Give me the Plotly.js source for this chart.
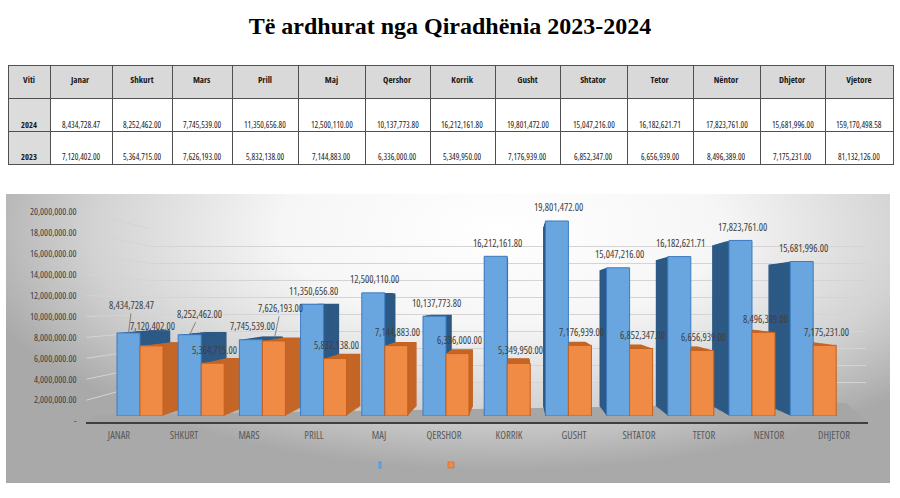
<!DOCTYPE html>
<html><head><meta charset="utf-8">
<script src="https://cdn.plot.ly/plotly-3.0.1.min.js"></script>
<style>html,body{margin:0;padding:0;background:#fff}#chart{width:900px;height:498px}</style>
</head><body><div id="chart"></div>
<script>
// ---------------- data ----------------
const months = ['JANAR','SHKURT','MARS','PRILL','MAJ','QERSHOR','KORRIK','GUSHT','SHTATOR','TETOR','NENTOR','DHJETOR'];
const tableHeaders = ['Viti','Janar','Shkurt','Mars','Prill','Maj','Qershor','Korrik','Gusht','Shtator','Tetor','Nëntor','Dhjetor','Vjetore'];
const years = ['2024','2023'];
const values2024 = [8434728.47, 8252462.00, 7745539.00, 11350656.80, 12500110.00, 10137773.80, 16212161.80, 19801472.00, 15047216.00, 16182621.71, 17823761.00, 15681996.00];
const values2023 = [7120402.00, 5364715.00, 7626193.00, 5832138.00, 7144883.00, 6336000.00, 5349950.00, 7176939.00, 6852347.00, 6656939.00, 8496389.00, 7175231.00];
const total2024 = 159170498.58;
const total2023 = 81132126.00;
const yTickVals = [0, 2000000, 4000000, 6000000, 8000000, 10000000, 12000000, 14000000, 16000000, 18000000, 20000000];
const yTickText = ['-', '2,000,000.00', '4,000,000.00', '6,000,000.00', '8,000,000.00', '10,000,000.00', '12,000,000.00', '14,000,000.00', '16,000,000.00', '18,000,000.00', '20,000,000.00'];

// ---------------- font detection (narrow look) ----------------
function textWidth(family, stretch) {
  const s = document.createElement('span');
  s.style.cssText = 'position:absolute;visibility:hidden;white-space:nowrap;font-size:40px;font-family:' + family + ';font-stretch:' + stretch;
  s.textContent = '0123456789,.ABCDEFGHIJ';
  document.body.appendChild(s);
  const w = s.getBoundingClientRect().width;
  s.remove();
  return w;
}
let FAM = '"Liberation Sans", Arial, sans-serif', STRETCH = null, NARROW = false;
if (Math.abs(textWidth('"Liberation Sans Narrow", monospace', '100%') - textWidth('monospace', '100%')) > 1) {
  FAM = '"Liberation Sans Narrow", sans-serif'; NARROW = true;
} else {
  for (const f of ['Open Sans', 'Roboto', 'Noto Sans', 'Inter']) {
    const w100 = textWidth('"' + f + '", monospace', '100%');
    const w75 = textWidth('"' + f + '", monospace', '75%');
    if (w75 < 0.9 * w100) { FAM = '"' + f + '", sans-serif'; STRETCH = '75%'; NARROW = true; break; }
  }
}
if (STRETCH) {
  const st = document.createElement('style');
  st.textContent = 'svg text { font-stretch: ' + STRETCH + '; }';
  document.head.appendChild(st);
}
const SZ = NARROW ? {lab: 10, ytk: 9.5, xtk: 10.5, tab: 8.5} : {lab: 8.5, ytk: 8.3, xtk: 8.8, tab: 8};

const fmt = v => v.toLocaleString('en-US', {minimumFractionDigits: 2, maximumFractionDigits: 2});
const W = 900, H = 498;
const px = x => x / W, py = y => 1 - y / H;

// ---------------- table ----------------
const cellCols = [years.map(y => '<b>' + y + '</b>')];
for (let i = 0; i < months.length; i++) cellCols.push([fmt(values2024[i]), fmt(values2023[i])]);
cellCols.push([fmt(total2024), fmt(total2023)]);
const cellFill = cellCols.map((c, i) => c.map(() => i === 0 ? '#dcdcdc' : '#ffffff'));

const TAB = {x0: 8, top: 65, rowH: 33, textY: [124, 157]};
const colW = [42, 62, 60, 60, 66, 67, 65, 65, 65, 67, 66, 67, 65, 68];
const table = {
  type: 'table',
  domain: {x: [px(TAB.x0), px(893)], y: [py(167), py(TAB.top)]},
  columnwidth: colW,
  header: {
    values: tableHeaders.map(h => '<b>' + h + '</b>'),
    height: TAB.rowH, align: 'center',
    fill: {color: '#d9d9d9'},
    line: {color: '#505050', width: 1},
    font: {family: FAM, size: SZ.tab + 0.5, color: '#1a1a1a'}
  },
  cells: {
    values: cellCols.map(c => c.map(() => '')), height: TAB.rowH, align: 'center',
    fill: {color: cellFill},
    line: {color: '#505050', width: 1},
    font: {family: FAM, size: SZ.tab, color: '#1a1a1a'}
  }
};
// cell texts, placed at the bottom part of each cell like the original
const tableAnnotations = [];
{
  let acc = TAB.x0;
  colW.forEach((w, ci) => {
    const cx = acc + w / 2; acc += w;
    cellCols[ci].forEach((t, ri) => tableAnnotations.push({
      xref: 'paper', yref: 'paper', x: px(cx), y: py(TAB.textY[ri]), text: t, showarrow: false,
      xanchor: 'center', yanchor: 'middle', font: {family: FAM, size: SZ.tab, color: '#1a1a1a'}
    }));
  });
}

// ---------------- pseudo-3D geometry (layout only) ----------------
const N = 10, SMIN = 0.92;           // depth layers, back-plane scale
const VX = 518, VY = 300;             // vanishing point (px)
const FX0 = 109.4, FX1 = 843.8;       // front plane x extent (px)
const FY0 = 416, FY1 = 219;           // front plane y of 0 and of 20M (px)
const WALL = {x0: 150, x1: 866, y0: 400, y1: 229};   // back wall (gridlines)
const LEFT = {x: 86.5, y0: 421, y1: 212};            // left wall front edge (value labels)
const YMAX = 20000000;
function planeDomains(s) {
  return {
    x: [px(VX + (FX0 - VX) * s), px(VX + (FX1 - VX) * s)],
    y: [py(VY + (FY0 - VY) * s), py(VY + (FY1 - VY) * s)]
  };
}

const traces = [table];
const layoutAxes = {};
const hidden = {visible: false, fixedrange: true};

// helper (invisible) trace so the back-wall grid subplot is drawn
traces.push({type: 'scatter', mode: 'none', x: months, y: values2024, xaxis: 'x', yaxis: 'y', showlegend: false, hoverinfo: 'skip'});

for (let j = 1; j <= N + 1; j++) {
  const id = j + 1;
  const front = (j === N + 1);
  const s = front ? 1 : SMIN + (1 - SMIN) * (j - 1) / N;
  const d = planeDomains(s);
  layoutAxes['xaxis' + id] = Object.assign({domain: d.x, type: 'category', range: [-0.5, months.length - 0.5], anchor: 'y' + id}, hidden);
  layoutAxes['yaxis' + id] = Object.assign({domain: d.y, range: [0, YMAX], anchor: 'x' + id}, hidden);
  traces.push({
    type: 'bar', x: months, y: values2024, xaxis: 'x' + id, yaxis: 'y' + id,
    name: ' ', showlegend: front, hoverinfo: front ? 'x+y' : 'skip',
    marker: front ? {color: '#69a6df', line: {color: '#3a7cc0', width: 1}} : {color: '#2d5985', line: {width: 0}}
  });
  traces.push({
    type: 'bar', x: months, y: values2023, xaxis: 'x' + id, yaxis: 'y' + id,
    name: ' ', showlegend: front, hoverinfo: front ? 'x+y' : 'skip',
    marker: front ? {color: '#f08b46', line: {color: '#c55f1a', width: 1}} : {color: '#c46627', line: {width: 0}}
  });
}
const FID = N + 2;       // front axes id
const LID = N + 3;       // label axes id

// helper (invisible) trace for the label axes
traces.push({type: 'scatter', mode: 'none', x: months, y: values2023, xaxis: 'x' + LID, yaxis: 'y' + LID, showlegend: false, hoverinfo: 'skip'});

layoutAxes['xaxis' + LID] = {
  domain: [px(86.5), px(866.5)], type: 'category', range: [-0.5, months.length - 0.5], anchor: 'y' + LID,
  showgrid: false, zeroline: false, showline: false, fixedrange: true,
  ticks: 'outside', ticklen: 4, tickcolor: 'rgba(0,0,0,0)',
  tickfont: {family: FAM, size: SZ.xtk, color: '#595959'}
};
layoutAxes['yaxis' + LID] = {
  domain: [py(LEFT.y0), py(LEFT.y1)], range: [0, YMAX], anchor: 'x' + LID,
  tickvals: yTickVals, ticktext: yTickText,
  showgrid: false, zeroline: false, showline: false, fixedrange: true,
  ticks: 'outside', ticklen: 7, tickcolor: 'rgba(0,0,0,0)',
  tickfont: {family: FAM, size: SZ.ytk, color: '#404040'}
};

// ---------------- data labels ----------------
const labelFont = {family: FAM, size: SZ.lab, color: '#404040'};
const leader2024 = {0: {ax: 3.5, ay: -28}, 1: {ax: 10, ay: -21}};
const leader2023 = {2: {ax: 7, ay: -33}};
const lift2023 = {0: 20};
const annotations = [];
function addLabels(vals, leaders, lifts, tipShift, textShift) {
  vals.forEach((v, i) => {
    const base = {x: months[i], y: v, xref: 'x' + FID, yref: 'y' + FID, text: fmt(v), font: labelFont};
    if (leaders[i]) {
      annotations.push(Object.assign(base, {
        xshift: tipShift, showarrow: true, arrowhead: 0, arrowwidth: 0.8, arrowcolor: '#6f6f6f',
        standoff: 0, ax: leaders[i].ax, ay: leaders[i].ay
      }));
    } else {
      annotations.push(Object.assign(base, {
        showarrow: false, xshift: textShift, yshift: lifts[i] || 13.5, yanchor: 'middle', xanchor: 'center'
      }));
    }
  });
}
addLabels(values2024, leader2024, {}, -11.5, -10);
addLabels(values2023, leader2023, lift2023, 11.5, 13);

// ---------------- left-wall grid segments (decoration from tick values) ----------------
const yOnLeft = v => LEFT.y0 + (LEFT.y1 - LEFT.y0) * v / YMAX;
const yOnWall = v => WALL.y0 + (WALL.y1 - WALL.y0) * v / YMAX;
const wallLines = yTickVals.slice(1).map(v => ({
  type: 'line', xref: 'paper', yref: 'paper', layer: 'below',
  x0: px(LEFT.x), y0: py(yOnLeft(v)), x1: px(WALL.x0), y1: py(yOnWall(v)),
  line: {color: '#d4d4d4', width: 1}
}));

// ---------------- background ----------------
const bgSvg = '<svg xmlns="http://www.w3.org/2000/svg" width="884" height="289" viewBox="0 0 884 289" preserveAspectRatio="none">' +
  '<defs><radialGradient id="g" cx="0.56" cy="0.12" r="0.62" gradientTransform="translate(0.56 0.12) scale(1 1.35) translate(-0.56 -0.12)">' +
  '<stop offset="0" stop-color="#ffffff"/><stop offset="0.4" stop-color="#f6f6f6"/><stop offset="0.75" stop-color="#d2d2d2"/><stop offset="1" stop-color="#a9a9a9"/>' +
  '</radialGradient></defs><rect width="884" height="289" fill="url(#g)"/></svg>';

const layout = Object.assign({
  width: W, height: H,
  margin: {l: 0, r: 0, t: 0, b: 0},
  paper_bgcolor: '#ffffff', plot_bgcolor: 'rgba(0,0,0,0)',
  title: {
    text: '<b>Të ardhurat nga Qiradhënia 2023-2024</b>',
    font: {family: '"Liberation Serif", "DejaVu Serif", serif', size: 24, color: '#000'},
    x: 0.5, xanchor: 'center', xref: 'paper', y: py(26), yanchor: 'middle', yref: 'paper'
  },
  barmode: 'group', bargap: 0.248, bargroupgap: 0,
  // back-wall gridlines
  xaxis: {domain: [px(WALL.x0), px(WALL.x1)], type: 'category', range: [-0.5, months.length - 0.5],
          showgrid: false, zeroline: false, showticklabels: false, ticks: '', fixedrange: true},
  yaxis: {domain: [py(WALL.y0), py(WALL.y1)], range: [0, YMAX], tick0: 0, dtick: 2000000, showgrid: true, gridcolor: '#d4d4d4', gridwidth: 1,
          zeroline: false, showticklabels: false, ticks: '', fixedrange: true},
  showlegend: true,
  legend: {
    orientation: 'h', x: px(378), xanchor: 'left', y: 33 / H, yanchor: 'middle',
    bgcolor: 'rgba(0,0,0,0)', entrywidth: 28, entrywidthmode: 'pixels', itemwidth: 30,
    font: {size: 8}
  },
  annotations: tableAnnotations.concat(annotations),
  images: [{
    source: 'data:image/svg+xml;charset=utf-8,' + encodeURIComponent(bgSvg),
    xref: 'paper', yref: 'paper', x: px(6), y: py(194), sizex: 884 / W, sizey: 289 / H,
    xanchor: 'left', yanchor: 'top', sizing: 'stretch', layer: 'below'
  }],
  shapes: wallLines.concat([
    {type: 'path', xref: 'paper', yref: 'paper', layer: 'below',
     path: `M ${px(86)} ${py(423)} L ${px(868)} ${py(423)} L ${px(846)} ${py(403)} L ${px(96)} ${py(415)} Z`,
     fillcolor: '#a6a6a6', line: {width: 0}},
    {type: 'line', xref: 'paper', yref: 'paper', layer: 'above',
     x0: px(86), x1: px(868), y0: py(423), y1: py(423), line: {color: '#3f3f3f', width: 2}}
  ])
}, layoutAxes);

Plotly.newPlot('chart', traces, layout, {displayModeBar: false, staticPlot: true}).then(() => {
  document.querySelectorAll('.legendpoints path').forEach(p => p.setAttribute('transform', 'scale(0.5)'));
});
</script></body></html>
